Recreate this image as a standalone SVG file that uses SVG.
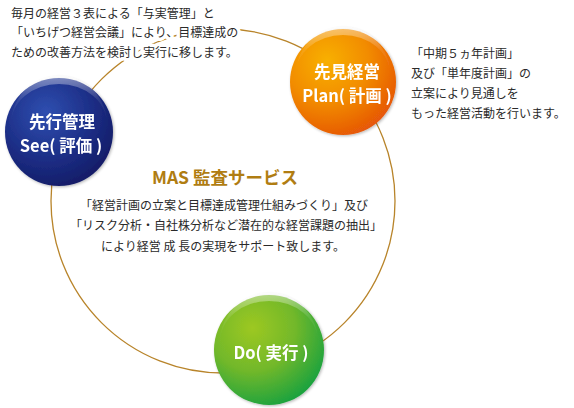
<svg xmlns="http://www.w3.org/2000/svg" width="574" height="408" viewBox="0 0 574 408">
  <defs>
    <style>
      .lbl { font-family: "Noto Sans CJK JP", "Noto Sans", sans-serif; font-weight: 700; font-size: 16.5px; fill: #ffffff; text-anchor: middle; }
      .txt { font-family: "Noto Sans CJK JP", "Noto Sans", sans-serif; font-size: 12px; fill: #2a2a2a; }
      .halo { paint-order: stroke; stroke: #ffffff; stroke-width: 7px; stroke-linejoin: round; }
      .ttl { font-family: "Noto Sans CJK JP", "Noto Sans", sans-serif; font-weight: 700; font-size: 17.5px; fill: #b07d12; text-anchor: middle; }
      .ring { fill: none; stroke: #b8842a; stroke-width: 1.3; }
      .gloss { fill: url(#gloss); }
    </style>
    <radialGradient id="gBlue" cx="0.38" cy="0.32" r="0.75">
      <stop offset="0" stop-color="#2f4fb0"/>
      <stop offset="0.55" stop-color="#1d2f88"/>
      <stop offset="1" stop-color="#121a63"/>
    </radialGradient>
    <radialGradient id="gOrange" cx="0.35" cy="0.3" r="0.78">
      <stop offset="0" stop-color="#f8b000"/>
      <stop offset="0.5" stop-color="#f28c00"/>
      <stop offset="1" stop-color="#e55208"/>
    </radialGradient>
    <radialGradient id="gGreen" cx="0.35" cy="0.3" r="0.78">
      <stop offset="0" stop-color="#9dc822"/>
      <stop offset="0.5" stop-color="#72b82a"/>
      <stop offset="1" stop-color="#12a040"/>
    </radialGradient>
    <linearGradient id="gloss" x1="0" y1="0" x2="0" y2="1">
      <stop offset="0" stop-color="#ffffff" stop-opacity="0.45"/>
      <stop offset="0.5" stop-color="#ffffff" stop-opacity="0.08"/>
      <stop offset="1" stop-color="#ffffff" stop-opacity="0"/>
    </linearGradient>
    <filter id="shadow" x="-20%" y="-20%" width="140%" height="140%">
      <feGaussianBlur in="SourceAlpha" stdDeviation="1.5"/>
      <feOffset dx="0.5" dy="1" result="b"/>
      <feComponentTransfer><feFuncA type="linear" slope="0.3"/></feComponentTransfer>
      <feMerge><feMergeNode/><feMergeNode in="SourceGraphic"/></feMerge>
    </filter>
  </defs>

  <rect width="574" height="408" fill="#ffffff"/>

  <g id="connectors">
    <circle class="ring" cx="223" cy="201" r="172"/>
  </g>

  <g id="note-see">
    <text class="txt halo" x="11" y="18">毎月の経営３表による「与実管理」と</text>
    <text class="txt halo" x="11" y="37">「いちげつ経営会議」により、目標達成の</text>
    <text class="txt halo" x="11" y="57">ための改善方法を検討し実行に移します。</text>
  </g>

  <g id="note-plan">
    <text class="txt" x="411" y="58">「中期５ヵ年計画」</text>
    <text class="txt" x="411" y="78">及び「単年度計画」の</text>
    <text class="txt" x="411" y="98">立案により見通しを</text>
    <text class="txt" x="411" y="118">もった経営活動を行います。</text>
  </g>

  <g id="center">
    <text class="ttl" x="225" y="184">MAS 監査サービス</text>
    <text class="txt" x="224" y="210" text-anchor="middle">「経営計画の立案と目標達成管理仕組みづくり」及び</text>
    <text class="txt" x="226" y="230" text-anchor="middle">「リスク分析・自社株分析など潜在的な経営課題の抽出」</text>
    <text class="txt" x="223" y="251" text-anchor="middle">により経営 成 長の実現をサポート致します。</text>
  </g>

  <g id="node-see" filter="url(#shadow)">
    <circle cx="59" cy="132" r="54" fill="url(#gBlue)"/>
    <path class="gloss" d="M 11 124 A 48 48 0 0 1 107 124 A 48 40 0 0 0 11 124 Z"/>
    <text class="lbl" x="62" y="128">先行管理</text>
    <text class="lbl" x="61" y="152">See( 評価 )</text>
  </g>

  <g id="node-plan" filter="url(#shadow)">
    <circle cx="343" cy="82" r="53" fill="url(#gOrange)"/>
    <path class="gloss" d="M 296 74 A 47 47 0 0 1 390 74 A 47 39 0 0 0 296 74 Z"/>
    <text class="lbl" x="347" y="78">先見経営</text>
    <text class="lbl" x="347" y="102">Plan( 計画 )</text>
  </g>

  <g id="node-do" filter="url(#shadow)">
    <circle cx="269" cy="350" r="55" fill="url(#gGreen)"/>
    <path class="gloss" d="M 220 342 A 49 49 0 0 1 318 342 A 49 41 0 0 0 220 342 Z"/>
    <text class="lbl" x="271" y="359">Do( 実行 )</text>
  </g>
</svg>
